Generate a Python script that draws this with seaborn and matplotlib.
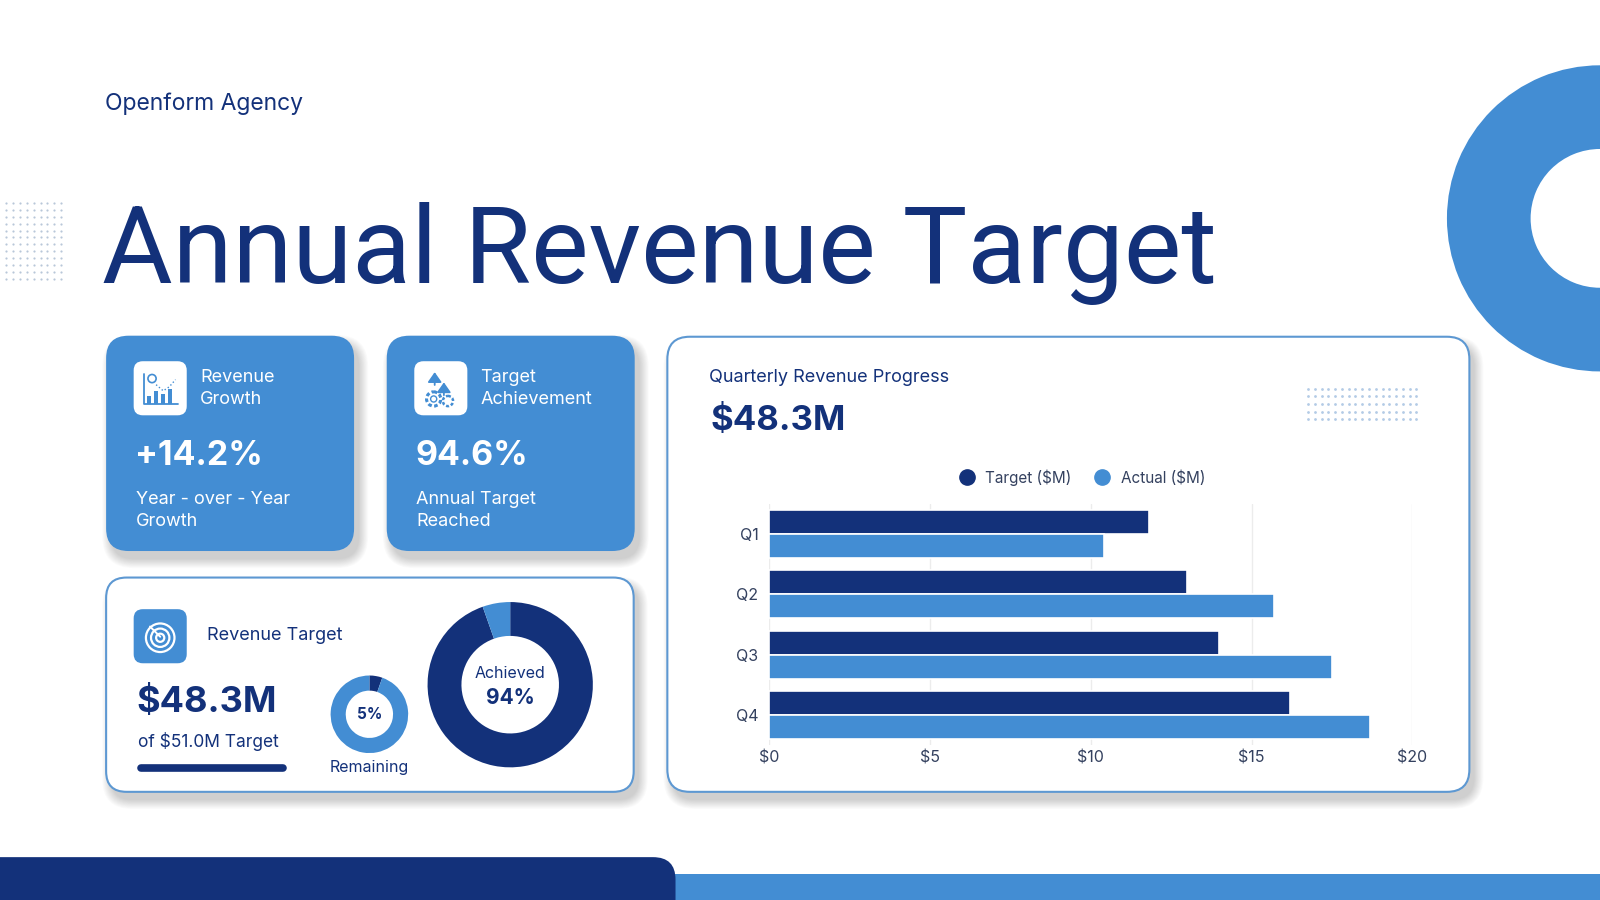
import numpy as np
import pandas as pd
import matplotlib.pyplot as plt
import seaborn as sns
from matplotlib.patches import FancyBboxPatch, Circle, Rectangle, Wedge
from matplotlib.lines import Line2D

# colours
NAVY = "#13317a"
BLUE = "#438dd3"
EDGE = "#5d98d2"
TICK = "#34415f"

# data
quarters = ["Q1", "Q2", "Q3", "Q4"]
target_m = [11.8, 13.0, 14.0, 16.2]
actual_m = [10.4, 15.7, 17.5, 18.7]
series_names = ["Target ($M)", "Actual ($M)"]
x_ticks = [0, 5, 10, 15, 20]
x_tick_labels = ["$0", "$5", "$10", "$15", "$20"]

achieved_split = [94.6, 5.4]    # achieved / remaining
remaining_split = [5.4, 94.6]   # remaining / achieved

kpi_titles = ["Revenue\nGrowth", "Target\nAchievement"]
kpi_values = ["+14.2%", "94.6%"]
kpi_subs = ["Year - over - Year\nGrowth", "Annual Target\nReached"]

sns.set_theme(style="white")
plt.rcParams["font.family"] = ["Inter", "DejaVu Sans"]

W, H = 1568, 882
fig = plt.figure(figsize=(16, 9), dpi=100)
fig.patch.set_facecolor("white")
bg = fig.add_axes([0, 0, 1, 1], zorder=0)
bg.set_xlim(0, W)
bg.set_ylim(H, 0)
bg.axis("off")


def frect(x0, y0, x1, y1):
    return [x0 / W, 1 - y1 / H, (x1 - x0) / W, (y1 - y0) / H]


def card(x0, y0, x1, y1, face, edge="none", r=22, lw=0):
    # soft drop shadow
    for k in range(12):
        g = k * 1.6
        bg.add_patch(FancyBboxPatch((x0 + 5 - g / 2, y0 + 8 - g / 2), x1 - x0 + g, y1 - y0 + g,
                                    boxstyle=f"round,pad=0,rounding_size={r + g / 2}",
                                    fc="black", ec="none", alpha=0.017, zorder=1))
    bg.add_patch(FancyBboxPatch((x0, y0), x1 - x0, y1 - y0,
                                boxstyle=f"round,pad=0,rounding_size={r}",
                                fc=face, ec=edge, lw=lw, zorder=2))


def icon_box(x0, y0, face):
    bg.add_patch(FancyBboxPatch((x0, y0), 52, 53, boxstyle="round,pad=0,rounding_size=9",
                                fc=face, ec="none", zorder=3))


# header
bg.text(103, 102, "Openform Agency", fontsize=16.5, color=NAVY, va="center")
bg.text(100, 277, "Annual Revenue Target", fontsize=78, color=NAVY, va="baseline",
        family=["Roboto", "DejaVu Sans"])

# dot grids
gx, gy = np.meshgrid(np.linspace(6, 60, 9), np.linspace(199, 273, 12))
bg.scatter(gx.ravel(), gy.ravel(), s=2.5, color="#b8c7d9", lw=0, zorder=1)

# big ring top right
bg.add_patch(Wedge((1568, 214), 150, 0, 360, width=82, fc=BLUE, ec="none", zorder=1))

# bottom bands
bg.add_patch(Rectangle((640, 857), W, 40, fc=BLUE, ec="none", zorder=1))
bg.add_patch(FancyBboxPatch((-40, 840), 702, 80, boxstyle="round,pad=0,rounding_size=22",
                            fc=NAVY, ec="none", zorder=2))

# KPI cards
for i in range(2):
    ox = i * 275
    card(104 + ox, 329, 347 + ox, 540, BLUE)
    icon_box(131 + ox, 354, "white")
    bg.text(196 + ox, 381, kpi_titles[i], fontsize=13, color="white", va="center", linespacing=1.38, zorder=4)
    bg.text(132 + ox, 447, kpi_values[i], fontsize=24.5, color="white", fontweight="bold", va="center", zorder=4)
    bg.text(133 + ox, 500, kpi_subs[i], fontsize=13, color="white", va="center", linespacing=1.38, zorder=4)

# icon 1: small bar chart
bg.plot([141, 141, 174], [367, 396, 396], color=BLUE, lw=1.3, zorder=5)
for bx, bh in zip([146, 153, 160, 167], [8, 13, 10, 15]):
    bg.add_patch(Rectangle((bx - 2, 396 - bh), 4, bh, fc=BLUE, ec="none", zorder=5))
bg.add_patch(Circle((149, 371), 4, fc="none", ec=BLUE, lw=1.2, zorder=5))
bg.plot([153, 160, 166, 172], [377, 383, 379, 372], color=BLUE, lw=1, ls=":", zorder=5)

# icon 2: arrows and gears
for ax0, top in [(426, 362), (435, 372)]:
    bg.annotate("", xy=(ax0, top), xytext=(ax0, top + 18), zorder=5,
                arrowprops=dict(arrowstyle="-|>,head_width=0.35,head_length=0.5", color=BLUE, lw=1.3))
bg.add_patch(Circle((425, 391), 7, fc="none", ec=BLUE, lw=2.2, ls=(0, (1.2, 0.8)), zorder=5))
bg.add_patch(Circle((425, 391), 3, fc="none", ec=BLUE, lw=1, zorder=5))
bg.add_patch(Circle((439, 393), 5, fc="none", ec=BLUE, lw=1.8, ls=(0, (1.2, 0.8)), zorder=5))

# revenue target card
card(104, 566, 621, 776, "white", edge=EDGE, r=20, lw=1.5)
icon_box(131, 597, BLUE)
for rr in [14, 9, 4]:
    bg.add_patch(Circle((157, 625), rr, fc="none", ec="white", lw=1.6, zorder=5))
bg.plot([147, 157], [614, 624], color="white", lw=1.4, zorder=5)
bg.text(203, 623, "Revenue Target", fontsize=13, color=NAVY, va="center")
bg.text(134, 688, "$48.3M", fontsize=26, color=NAVY, fontweight="bold", va="center")
bg.text(135, 727, "of $51.0M Target", fontsize=12.5, color=NAVY, va="center")
bg.plot([138, 277], [753, 753], color=NAVY, lw=5.5, solid_capstyle="round", zorder=3)

sa = fig.add_axes(frect(362 - 38, 700 - 38, 362 + 38, 700 + 38), zorder=2)
sa.pie(remaining_split, colors=[NAVY, BLUE], startangle=90, counterclock=False, radius=1,
       wedgeprops=dict(width=0.39, edgecolor="none"))
sa.set_xlim(-1, 1)
sa.set_ylim(-1, 1)
sa.text(0, 0, "5%", ha="center", va="center", fontsize=11, fontweight="bold", color=NAVY)
bg.text(362, 752, "Remaining", fontsize=11.5, color=NAVY, ha="center", va="center")

pa = fig.add_axes(frect(500 - 81, 671 - 81, 500 + 81, 671 + 81), zorder=2)
pa.pie(achieved_split, colors=[NAVY, BLUE], startangle=90, counterclock=False, radius=1,
       wedgeprops=dict(width=0.41, edgecolor="none"))
pa.set_xlim(-1, 1)
pa.set_ylim(-1, 1)
pa.text(0, 0.14, "Achieved", ha="center", va="center", fontsize=11.5, color=NAVY)
pa.text(0, -0.16, "94%", ha="center", va="center", fontsize=15, fontweight="bold", color=NAVY)

# quarterly chart card
card(654, 330, 1440, 776, "white", edge=EDGE, r=22, lw=1.5)
bg.text(695, 370, "Quarterly Revenue Progress", fontsize=13, color=NAVY, va="center")
bg.text(696, 413, "$48.3M", fontsize=25, color=NAVY, fontweight="bold", va="center")
dx, dy = np.meshgrid(np.linspace(1282, 1388, 17), np.linspace(381, 411, 5))
bg.scatter(dx.ravel(), dy.ravel(), s=4, color="#b3cbe6", lw=0, zorder=3)

df = pd.DataFrame({
    "Quarter": quarters * 2,
    "Series": [series_names[0]] * 4 + [series_names[1]] * 4,
    "Value": target_m + actual_m,
})

ax = fig.add_axes(frect(754, 494, 1384, 730), zorder=3)
sns.barplot(data=df, y="Quarter", x="Value", hue="Series", hue_order=series_names,
            palette=[NAVY, BLUE], saturation=1, orient="h", errorbar=None, ax=ax,
            edgecolor="white", linewidth=1.2, legend=False)
ax.set_facecolor("none")
ax.set_xlim(0, 20)
ax.set_xticks(x_ticks)
ax.set_xticklabels(x_tick_labels)
ax.set_xlabel("")
ax.set_ylabel("")
ax.xaxis.grid(True, color="#ececec", lw=1)
ax.set_axisbelow(True)
sns.despine(ax=ax, left=True, bottom=True)
ax.tick_params(axis="both", length=0, labelsize=11.5, labelcolor=TICK)
ax.tick_params(axis="x", pad=4)
ax.tick_params(axis="y", pad=8)

handles = [Line2D([], [], ls="none", marker="o", markersize=11, color=c) for c in [NAVY, BLUE]]
fig.legend(handles, series_names, loc="center", bbox_to_anchor=(1057 / W, 1 - 468 / H), ncol=2,
           frameon=False, fontsize=11, handletextpad=0.2, columnspacing=1.0, labelcolor=TICK)

fig.savefig("out.png", dpi=100, facecolor="white")
